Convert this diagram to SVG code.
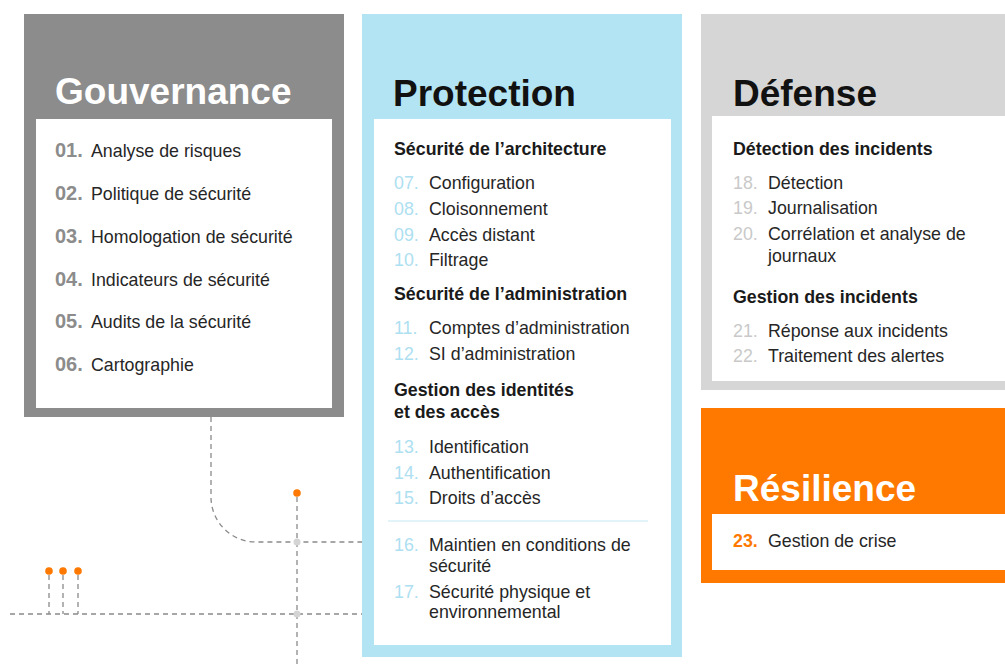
<svg xmlns="http://www.w3.org/2000/svg" width="1005" height="666" viewBox="0 0 1005 666">
<style>
text{font-family:"Liberation Sans",Arial,Helvetica,sans-serif;}
.title{font-size:37px;font-weight:bold;}
.tw{fill:#ffffff;}
.tk{fill:#111111;}
.sub{font-size:17.8px;font-weight:bold;fill:#1a1a1a;}
.it{font-size:17.8px;fill:#262626;}
.ng{font-size:20px;font-weight:bold;fill:#8c8c8c;}
.nb{font-size:17.8px;fill:#ade0f1;}
.nd{font-size:17.8px;fill:#c9c9c9;}
.no{font-size:17.8px;font-weight:bold;fill:#ff7900;}
.dash{fill:none;stroke:#8a8a8a;stroke-width:1.3;stroke-dasharray:5 4;}
.dot{fill:#ff7900;}
.jn{fill:#d4d4d4;}
</style>
<rect width="1005" height="666" fill="#ffffff"/>

<g id="connectors">
<path class="dash" d="M211,417 V497 A45,45 0 0 0 256,542 H362"/>
<path class="dash" d="M10,614 H362"/>
<path class="dash" d="M297,497 V666"/>
<path class="dash" d="M49,575 V614"/>
<path class="dash" d="M63,575 V614"/>
<path class="dash" d="M78,575 V614"/>
<circle class="jn" cx="297" cy="542" r="3.5"/>
<circle class="jn" cx="297" cy="614" r="3.5"/>
<circle class="dot" cx="297" cy="493" r="3.8"/>
<circle class="dot" cx="49" cy="571" r="3.8"/>
<circle class="dot" cx="63" cy="571" r="3.8"/>
<circle class="dot" cx="78" cy="571" r="3.8"/>
</g>

<g id="gouvernance">
<rect x="24" y="14" width="320" height="403" fill="#8c8c8c"/>
<rect x="36" y="119" width="296" height="289" fill="#ffffff"/>
<text class="title tw" x="55" y="104">Gouvernance</text>
<text x="55" y="157"><tspan class="ng">01.</tspan><tspan class="it" x="91">Analyse de risques</tspan></text>
<text x="55" y="200"><tspan class="ng">02.</tspan><tspan class="it" x="91">Politique de sécurité</tspan></text>
<text x="55" y="243"><tspan class="ng">03.</tspan><tspan class="it" x="91">Homologation de sécurité</tspan></text>
<text x="55" y="286"><tspan class="ng">04.</tspan><tspan class="it" x="91">Indicateurs de sécurité</tspan></text>
<text x="55" y="328"><tspan class="ng">05.</tspan><tspan class="it" x="91">Audits de la sécurité</tspan></text>
<text x="55" y="371"><tspan class="ng">06.</tspan><tspan class="it" x="91">Cartographie</tspan></text>
</g>

<g id="protection">
<rect x="362" y="14" width="320" height="643" fill="#b3e4f3"/>
<rect x="374" y="119" width="297" height="526" fill="#ffffff"/>
<text class="title tk" x="393" y="106">Protection</text>
<text class="sub" x="394" y="155">Sécurité de l’architecture</text>
<text x="394" y="189"><tspan class="nb">07.</tspan><tspan class="it" x="429">Configuration</tspan></text>
<text x="394" y="215"><tspan class="nb">08.</tspan><tspan class="it" x="429">Cloisonnement</tspan></text>
<text x="394" y="241"><tspan class="nb">09.</tspan><tspan class="it" x="429">Accès distant</tspan></text>
<text x="394" y="266"><tspan class="nb">10.</tspan><tspan class="it" x="429">Filtrage</tspan></text>
<text class="sub" x="394" y="300">Sécurité de l’administration</text>
<text x="394" y="334"><tspan class="nb">11.</tspan><tspan class="it" x="429">Comptes d’administration</tspan></text>
<text x="394" y="360"><tspan class="nb">12.</tspan><tspan class="it" x="429">SI d’administration</tspan></text>
<text class="sub" x="394" y="396">Gestion des identités</text>
<text class="sub" x="394" y="418">et des accès</text>
<text x="394" y="453"><tspan class="nb">13.</tspan><tspan class="it" x="429">Identification</tspan></text>
<text x="394" y="479"><tspan class="nb">14.</tspan><tspan class="it" x="429">Authentification</tspan></text>
<text x="394" y="504"><tspan class="nb">15.</tspan><tspan class="it" x="429">Droits d’accès</tspan></text>
<line x1="388" y1="521" x2="648" y2="521" stroke="#c6e8f3" stroke-width="1"/>
<text x="394" y="551"><tspan class="nb">16.</tspan><tspan class="it" x="429">Maintien en conditions de</tspan></text>
<text class="it" x="429" y="572">sécurité</text>
<text x="394" y="598"><tspan class="nb">17.</tspan><tspan class="it" x="429">Sécurité physique et</tspan></text>
<text class="it" x="429" y="618">environnemental</text>
</g>

<g id="defense">
<rect x="701" y="14" width="304" height="376" fill="#d6d6d6"/>
<rect x="712" y="116" width="293" height="265" fill="#ffffff"/>
<text class="title tk" x="733" y="106">Défense</text>
<text class="sub" x="733" y="155">Détection des incidents</text>
<text x="733" y="189"><tspan class="nd">18.</tspan><tspan class="it" x="768">Détection</tspan></text>
<text x="733" y="214"><tspan class="nd">19.</tspan><tspan class="it" x="768">Journalisation</tspan></text>
<text x="733" y="240"><tspan class="nd">20.</tspan><tspan class="it" x="768">Corrélation et analyse de</tspan></text>
<text class="it" x="768" y="262">journaux</text>
<text class="sub" x="733" y="303">Gestion des incidents</text>
<text x="733" y="337"><tspan class="nd">21.</tspan><tspan class="it" x="768">Réponse aux incidents</tspan></text>
<text x="733" y="362"><tspan class="nd">22.</tspan><tspan class="it" x="768">Traitement des alertes</tspan></text>
</g>

<g id="resilience">
<rect x="701" y="408" width="304" height="175" fill="#ff7900"/>
<rect x="712" y="514" width="293" height="56" fill="#ffffff"/>
<text class="title tw" x="733" y="501">Résilience</text>
<text x="733" y="547"><tspan class="no">23.</tspan><tspan class="it" x="768">Gestion de crise</tspan></text>
</g>
</svg>
